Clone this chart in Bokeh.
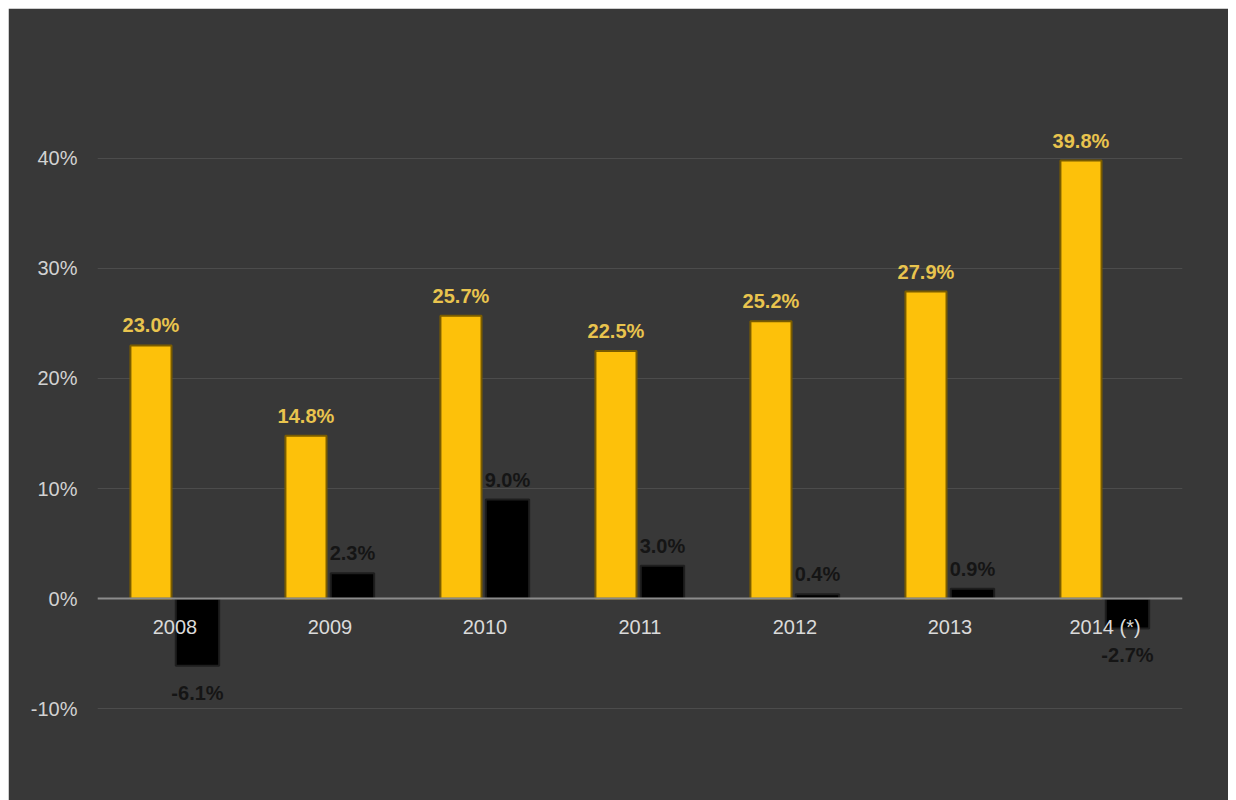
from bokeh.plotting import figure
from bokeh.models import ColumnDataSource, PrintfTickFormatter, FactorRange
from bokeh.transform import dodge
from bokeh.core.properties import value
from bokeh.embed import file_html
from bokeh.resources import INLINE

# ---- data ----
years = ["2008", "2009", "2010", "2011", "2012", "2013", "2014 (*)"]
yellow_vals = [23.0, 14.8, 25.7, 22.5, 25.2, 27.9, 39.8]
black_vals = [-6.1, 2.3, 9.0, 3.0, 0.4, 0.9, -2.7]
y_ticks = [-10, 0, 10, 20, 30, 40]

# ---- styles ----
BG = "#383838"
YELLOW = "#FDC10A"
FONT = "Liberation Sans"

p = figure(
    x_range=FactorRange(*years, range_padding=0),
    y_range=(-14.7, 52.7),
    width=1220, height=792,
    output_backend="svg", toolbar_location=None,
    min_border_left=89, min_border_right=46,
    min_border_top=10, min_border_bottom=40,
)
p.margin = (8, 0, 0, 8)
p.background_fill_color = BG
p.border_fill_color = BG
# paint over the seam between the frame and border fills
p.outline_line_color = BG
p.outline_line_width = 3

ysrc = ColumnDataSource(dict(
    x=years, y=yellow_vals, lab=[f"{v:.1f}%" for v in yellow_vals]))
bsrc = ColumnDataSource(dict(
    x=years, y=black_vals, lab=[f"{v:.1f}%" for v in black_vals]))

p.vbar(x=dodge("x", -0.155, range=p.x_range), top="y", bottom=0, width=0.265,
       source=ysrc, fill_color=YELLOW, line_color="#7a5c00", line_width=2)
p.vbar(x=dodge("x", 0.145, range=p.x_range), top="y", bottom=0, width=0.28,
       source=bsrc, fill_color="#000000", line_color="#1e1e1e", line_width=2)

# labels for yellow bars
p.text(x=dodge("x", -0.155, range=p.x_range), y="y", text="lab", source=ysrc,
       text_align="center", text_baseline="bottom", y_offset=-9,
       text_font=value(FONT), text_font_size="20px", text_font_style="bold",
       text_color="#E9C44E")

# labels for black bars (positive above, negative below)
bpos = ColumnDataSource(dict(
    x=[c for c, v in zip(years, black_vals) if v >= 0],
    y=[v for v in black_vals if v >= 0],
    lab=[f"{v:.1f}%" for v in black_vals if v >= 0]))
bneg = ColumnDataSource(dict(
    x=[c for c, v in zip(years, black_vals) if v < 0],
    y=[v for v in black_vals if v < 0],
    lab=[f"{v:.1f}%" for v in black_vals if v < 0]))
p.text(x=dodge("x", 0.145, range=p.x_range), y="y", text="lab", source=bpos,
       text_align="center", text_baseline="bottom", y_offset=-9,
       text_font=value(FONT), text_font_size="20px", text_font_style="bold",
       text_color="#151515")
p.text(x=dodge("x", 0.145, range=p.x_range), y="y", text="lab", source=bneg,
       text_align="center", text_baseline="top", y_offset=16,
       text_font=value(FONT), text_font_size="20px", text_font_style="bold",
       text_color="#151515")

# axes
p.xaxis.fixed_location = 0
p.xaxis.axis_line_color = "#8c8c8c"
p.xaxis.axis_line_width = 2
p.xaxis.major_tick_line_color = None
p.xaxis.minor_tick_line_color = None
p.xaxis.major_tick_out = 0
p.xaxis.major_label_standoff = 17
p.xaxis.major_label_text_font = FONT
p.xaxis.major_label_text_font_size = "20px"
p.xaxis.major_label_text_color = "#DADADA"

p.yaxis.ticker = y_ticks
p.yaxis.formatter = PrintfTickFormatter(format="%d%%")
p.yaxis.axis_line_color = None
p.yaxis.major_tick_line_color = None
p.yaxis.minor_tick_line_color = None
p.yaxis.major_tick_out = 0
p.yaxis.major_label_standoff = 20
p.yaxis.major_label_text_font = FONT
p.yaxis.major_label_text_font_size = "20px"
p.yaxis.major_label_text_color = "#D2D2D2"

p.xgrid.grid_line_color = None
p.ygrid.grid_line_color = "#4c4c4c"
p.ygrid.grid_line_width = 1

open("out.html", "w").write(file_html(p, INLINE))
